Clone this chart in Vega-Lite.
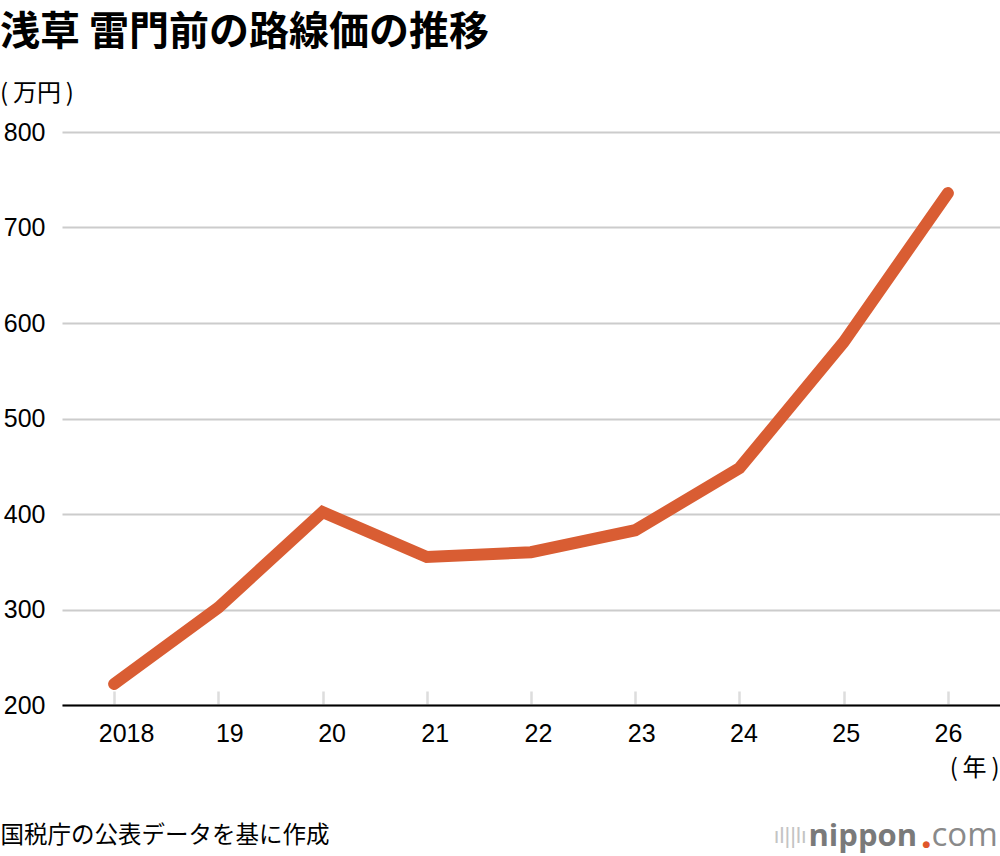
{
  "$schema": "https://vega.github.io/schema/vega-lite/v6.json",
  "width": 938,
  "height": 573,
  "autosize": {"type": "none"},
  "padding": {"left": 62, "top": 132, "right": 0, "bottom": 151},
  "background": "white",
  "title": {
    "text": "浅草 雷門前の路線価の推移",
    "subtitle": "(\u2009万円\u2009)",
    "anchor": "start",
    "frame": "group",
    "dx": -62,
    "offset": 14,
    "font": "Noto Sans CJK JP",
    "fontSize": 40,
    "fontWeight": "bold",
    "color": "#000000",
    "subtitleFont": "Noto Sans CJK JP",
    "subtitleFontSize": 24,
    "subtitleColor": "#000000",
    "subtitlePadding": 29
  },
  "data": {
    "values": [
      {"year": "2018", "value": 222},
      {"year": "19", "value": 302},
      {"year": "20", "value": 402},
      {"year": "21", "value": 355},
      {"year": "22", "value": 360},
      {"year": "23", "value": 383},
      {"year": "24", "value": 448},
      {"year": "25", "value": 580},
      {"year": "26", "value": 736}
    ]
  },
  "config": {
    "view": {"stroke": null},
    "axis": {"labelFont": "Liberation Sans", "titleFont": "Noto Sans CJK JP"}
  },
  "layer": [
    {
      "mark": {"type": "line", "color": "#d95d33", "strokeWidth": 12, "strokeCap": "round", "strokeJoin": "miter"},
      "encoding": {
        "x": {
          "field": "year",
          "type": "ordinal",
          "sort": null,
          "scale": {"type": "point", "padding": 0.5},
          "axis": {
            "title": "(\u2009年\u2009)",
            "titleFontSize": 24,
            "titleFontWeight": "normal",
            "titleColor": "#000000",
            "titleAngle": 0,
            "titleAlign": "right",
            "titleBaseline": "middle",
            "titleX": 937,
            "titleY": 63,
            "labelAngle": 0,
            "labelFontSize": 25,
            "labelColor": "#000000",
            "labelPadding": 30,
            "labelOffset": {
              "condition": [
                {"test": "datum.value == '2018'", "value": 12},
                {"test": "datum.value == '19'", "value": 11},
                {"test": "datum.value == '20'", "value": 9},
                {"test": "datum.value == '21'", "value": 8},
                {"test": "datum.value == '22'", "value": 7},
                {"test": "datum.value == '23'", "value": 6},
                {"test": "datum.value == '24'", "value": 4},
                {"test": "datum.value == '25'", "value": 2}
              ],
              "value": 0
            },
            "ticks": true,
            "tickSize": -14,
            "tickColor": "#dddddd",
            "tickWidth": 2.5,
            "domain": true,
            "domainColor": "#000000",
            "domainWidth": 2,
            "grid": false
          }
        },
        "y": {
          "field": "value",
          "type": "quantitative",
          "scale": {"domain": [200, 800], "nice": false, "zero": false},
          "axis": {
            "values": [200, 300, 400, 500, 600, 700, 800],
            "title": "国税庁の公表データを基に作成",
            "titleFontSize": 23.5,
            "titleFontWeight": "normal",
            "titleColor": "#000000",
            "titleAngle": 0,
            "titleAlign": "left",
            "titleBaseline": "middle",
            "titleX": -62,
            "titleY": 703,
            "labelFontSize": 25,
            "labelColor": "#000000",
            "labelPadding": 17,
            "ticks": false,
            "domain": false,
            "grid": true,
            "gridColor": "#cccccc",
            "gridWidth": 2
          }
        }
      }
    },
    {
      "mark": {"type": "line", "opacity": 0},
      "encoding": {
        "x": {
          "field": "year",
          "type": "ordinal",
          "sort": null,
          "scale": {"type": "point", "padding": 0.5},
          "axis": {
            "orient": "bottom",
            "title": "com",
            "titleFont": "Open Sans",
            "titleFontSize": 33,
            "titleFontWeight": "normal",
            "titleColor": "#8a8a8a",
            "titleAngle": 0,
            "titleAlign": "left",
            "titleBaseline": "alphabetic",
            "titleX": 869,
            "titleY": 140,
            "labelExpr": "datum.value == '26' ? '●' : ''",
            "labelFont": "DejaVu Sans",
            "labelFontSize": 9,
            "labelColor": "#e0572a",
            "labelAngle": 0,
            "labelOffset": -22,
            "labelPadding": 134,
            "ticks": false,
            "domain": false,
            "grid": false
          }
        },
        "y": {
          "field": "value",
          "type": "quantitative",
          "scale": {"domain": [200, 800], "nice": false, "zero": false},
          "axis": {
            "orient": "right",
            "title": "nippon",
            "titleFont": "Open Sans",
            "titleFontSize": 31,
            "titleFontWeight": "bold",
            "titleColor": "#7a7a7a",
            "titleAngle": 0,
            "titleAlign": "left",
            "titleBaseline": "alphabetic",
            "titleX": -192,
            "titleY": 713,
            "values": [200],
            "labels": true,
            "labelExpr": "'ıl||lı'",
            "labelFont": "Liberation Sans",
            "labelFontSize": 22,
            "labelColor": "#c4c4c4",
            "labelAlign": "left",
            "labelBaseline": "middle",
            "labelPadding": -227,
            "labelOffset": 130,
            "ticks": false,
            "domain": false,
            "grid": false
          }
        }
      }
    }
  ],
  "resolve": {
    "scale": {"x": "independent", "y": "independent"},
    "axis": {"x": "independent", "y": "independent"}
  }
}
